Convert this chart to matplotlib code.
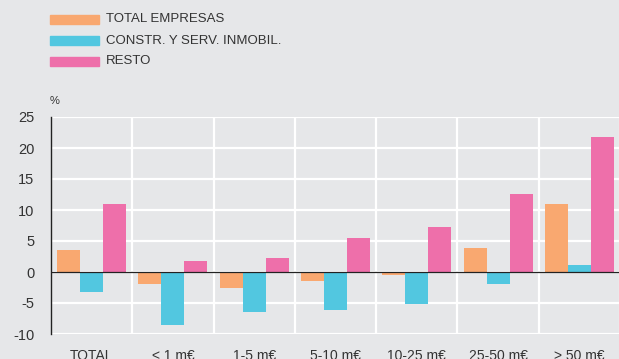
import matplotlib
matplotlib.use("Agg")
import matplotlib.pyplot as plt
import numpy as np
from matplotlib.patches import Rectangle

categories = ["TOTAL", "< 1 m€", "1-5 m€", "5-10 m€", "10-25 m€", "25-50 m€", "> 50 m€"]
series_names = ["TOTAL EMPRESAS", "CONSTR. Y SERV. INMOBIL.", "RESTO"]
total_empresas = [3.6, -2.0, -2.5, -1.4, -0.5, 3.8, 11.0]
constr_inmobil = [-3.2, -8.5, -6.5, -6.2, -5.1, -1.9, 1.2]
resto = [11.0, 1.8, 2.3, 5.5, 7.2, 12.6, 21.8]
yticks = [-10, -5, 0, 5, 10, 15, 20, 25]
colors = ["#F9A870", "#52C7E0", "#EE6FAA"]

plt.rcParams['font.family'] = ['Liberation Sans', 'DejaVu Sans']
bg = "#E6E7E9"
fig = plt.figure(figsize=(6.19, 3.59), dpi=100, facecolor=bg)
ax = fig.add_axes([51/619, 25/359, 569/619, 217/359])
ax.set_facecolor(bg)

x = np.arange(len(categories))
w = 0.283
for i, vals in enumerate([total_empresas, constr_inmobil, resto]):
    ax.bar(x + (i - 1) * w, vals, width=w, color=colors[i], zorder=3, linewidth=0)

ax.set_xlim(-0.5, len(categories) - 0.5)
ax.set_ylim(-10, 25)
ax.set_yticks(yticks)
ax.set_yticklabels([str(v) for v in yticks], fontsize=10.5, color="#333333")
ax.set_xticks(x)
ax.set_xticklabels(categories, fontsize=10, color="#333333")
ax.set_xticks(np.arange(len(categories) + 1) - 0.5, minor=True)
ax.tick_params(axis='both', which='both', length=0)
ax.tick_params(axis='y', pad=12)
ax.tick_params(axis='x', pad=11)
ax.grid(axis='y', which='major', color='white', linewidth=1.6, zorder=0)
ax.grid(axis='x', which='minor', color='white', linewidth=1.6, zorder=0)
ax.grid(axis='x', which='major', visible=False)
for s in ['top', 'right', 'bottom']:
    ax.spines[s].set_visible(False)
ax.spines['left'].set_color('#222222')
ax.spines['left'].set_linewidth(1.0)
ax.spines['left'].set_zorder(4)
ax.axhline(0, color='#222222', linewidth=0.9, zorder=4)

fig.text(50/619, 1 - 101/359, "%", fontsize=8, color="#333333", va='center', ha='left')

for i, name in enumerate(series_names):
    yc = 19.5 + 21 * i
    fig.patches.append(Rectangle((50/619, 1 - (yc + 4.5)/359), 49/619, 9/359,
                                 transform=fig.transFigure, color=colors[i], figure=fig))
    fig.text(106/619, 1 - yc/359, name, fontsize=9.5, color="#333333", va='center', ha='left')

fig.savefig("out.png", dpi=100, facecolor=bg)
